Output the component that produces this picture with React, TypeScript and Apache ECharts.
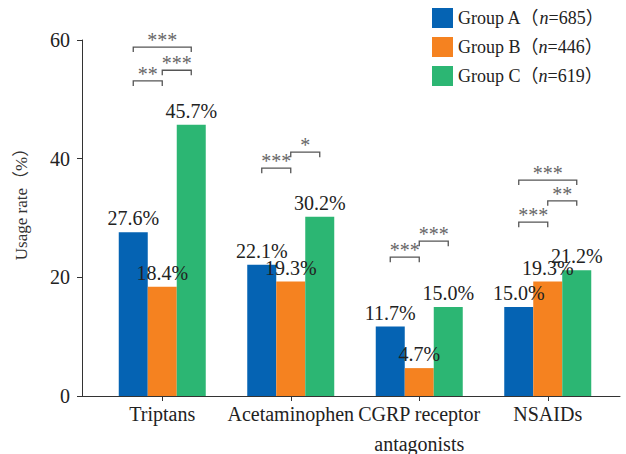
import React, { useEffect, useRef } from "react";
import * as echarts from "echarts";

const categories = ["Triptans", "Acetaminophen", "CGRP receptor\nantagonists", "NSAIDs"];
const groupNames = ["Group A", "Group B", "Group C"];
const groupN = [685, 446, 619];
const groupA = [27.6, 22.1, 11.7, 15.0];
const groupB = [18.4, 19.3, 4.7, 19.3];
const groupC = [45.7, 30.2, 15.0, 21.2];
const colors = ["#0563B3", "#F58220", "#2CB673"];
const yTicks = [0, 20, 40, 60];
// [category index, from group, to group, bracket height (%), significance]
const brackets: [number, number, number, number, string][] = [
  [0, 0, 1, 53.1, "**"],
  [0, 1, 2, 54.9, "***"],
  [0, 0, 2, 58.8, "***"],
  [1, 0, 1, 38.4, "***"],
  [1, 1, 2, 41.1, "*"],
  [2, 0, 1, 23.4, "***"],
  [2, 1, 2, 26.1, "***"],
  [3, 0, 1, 29.3, "***"],
  [3, 1, 2, 32.9, "**"],
  [3, 0, 2, 36.4, "***"],
];

const FONT = "Liberation Serif, Noto Sans CJK SC, serif";
const BAR_W = 29;

export default function App() {
  const ref = useRef<HTMLDivElement>(null);
  useEffect(() => {
    if (!ref.current) return;
    const chart = echarts.init(ref.current, undefined, { renderer: "svg" });
    const seriesData = [groupA, groupB, groupC];
    const barSeries = groupNames.map((name, i) => ({
      name,
      type: "bar",
      xAxisIndex: 0,
      yAxisIndex: 0,
      data: seriesData[i],
      barWidth: BAR_W,
      barGap: "0%",
      itemStyle: { color: colors[i] },
      label: {
        show: true,
        position: "top",
        distance: 4,
        fontFamily: FONT,
        fontSize: 20,
        color: "#222",
        formatter: (p: any) => Number(p.value).toFixed(1) + "%",
      },
    }));
    const option: any = {
      animation: false,
      legend: {
        orient: "vertical",
        left: 432,
        top: 8,
        padding: 0,
        itemWidth: 21,
        itemHeight: 20,
        itemGap: 9,
        icon: "rect",
        data: groupNames,
        formatter: (name: string) => {
          const i = groupNames.indexOf(name);
          return `${name}（{i|n}=${groupN[i]}）`;
        },
        textStyle: {
          fontFamily: FONT,
          fontSize: 18,
          color: "#222",
          rich: {
            i: { fontFamily: FONT, fontSize: 18, fontStyle: "italic", color: "#222" },
          },
        },
      },
      grid: [
        { left: 98, right: 14, top: 40, bottom: 58, outerBoundsMode: "none", containLabel: false },
        { left: 82, right: 6, top: 40, bottom: 58, outerBoundsMode: "none", containLabel: false },
      ],
      xAxis: [
        {
          type: "category",
          gridIndex: 0,
          data: categories,
          axisLine: { show: false },
          axisTick: { show: true, alignWithLabel: true, length: 5, lineStyle: { color: "#333" } },
          axisLabel: {
            fontFamily: FONT,
            fontSize: 20,
            color: "#222",
            margin: 3,
            lineHeight: 30,
            interval: 0,
          },
        },
        {
          type: "value",
          gridIndex: 1,
          min: 0,
          max: 1,
          axisLine: { show: true, lineStyle: { color: "#333", width: 1 } },
          axisTick: { show: false },
          axisLabel: { show: false },
          splitLine: { show: false },
        },
      ],
      yAxis: [
        {
          type: "value",
          gridIndex: 0,
          min: 0,
          max: 60,
          interval: 20,
          offset: 16,
          name: "Usage rate（%）",
          nameLocation: "middle",
          nameGap: 52,
          nameRotate: 90,
          nameTextStyle: {
            fontFamily: FONT,
            fontSize: 17,
            color: "#333",
            padding: [0, 0, 0, 36],
          },
          axisLine: { show: true, lineStyle: { color: "#333", width: 1 } },
          axisTick: { show: true, inside: false, length: 5, lineStyle: { color: "#333" } },
          axisLabel: {
            fontFamily: FONT,
            fontSize: 20,
            color: "#222",
            margin: 12,
            formatter: (v: number) => (yTicks.includes(v) ? String(v) : ""),
          },
          splitLine: { show: false },
        },
        {
          type: "value",
          gridIndex: 1,
          show: false,
          min: 0,
          max: 1,
        },
      ],
      series: [
        ...barSeries,
        {
          type: "custom",
          xAxisIndex: 0,
          yAxisIndex: 0,
          silent: true,
          clip: false,
          z: 5,
          data: brackets.map((b) => [b[0], b[3], b[1], b[2]]),
          renderItem: (params: any, api: any) => {
            const idx = params.dataIndex;
            const c = api.coord([api.value(0), api.value(1)]);
            const x1 = c[0] + (api.value(2) - 1) * BAR_W;
            const x2 = c[0] + (api.value(3) - 1) * BAR_W;
            const y = c[1];
            return {
              type: "group",
              children: [
                {
                  type: "polyline",
                  shape: { points: [[x1, y + 5], [x1, y], [x2, y], [x2, y + 5]] },
                  style: { stroke: "#555", lineWidth: 1.3, fill: null },
                },
                {
                  type: "text",
                  style: {
                    x: (x1 + x2) / 2,
                    y: y + 3,
                    text: brackets[idx][4],
                    fontFamily: FONT,
                    fontSize: 20,
                    fill: "#666",
                    align: "center",
                    verticalAlign: "bottom",
                  },
                },
              ],
            };
          },
        },
      ],
    };
    chart.setOption(option);
    return () => chart.dispose();
  }, []);
  return <div ref={ref} style={{ width: 626, height: 454, position: "absolute", left: 0, top: 0 }} />;
}
